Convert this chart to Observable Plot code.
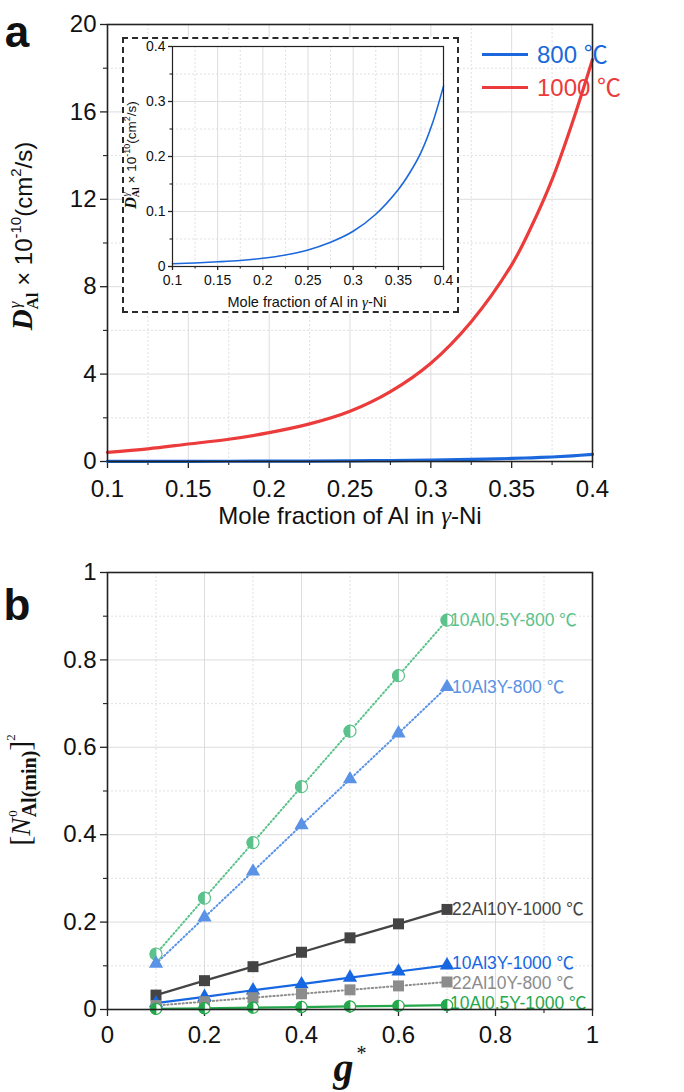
<!DOCTYPE html>
<html>
<head>
<meta charset="utf-8">
<script src="https://cdn.jsdelivr.net/npm/d3@7"></script>
<script src="https://cdn.jsdelivr.net/npm/@observablehq/plot@0.6"></script>
<style>
  body { margin: 0; background: #fff; }
  #wrap { position: relative; width: 684px; height: 1092px; overflow: hidden; background: #fff; }
  #wrap svg { display: block; }
  .abs { position: absolute; }
</style>
</head>
<body>
<div id="wrap"></div>
<script>
// ---------- Panel a data ----------
const xFrac = [0.1, 0.125, 0.15, 0.175, 0.2, 0.225, 0.25, 0.275, 0.3, 0.325, 0.35, 0.3625, 0.375, 0.3875, 0.4];
const d800  = [0.005, 0.0065, 0.0085, 0.011, 0.015, 0.021, 0.030, 0.044, 0.064, 0.095, 0.140, 0.170, 0.207, 0.259, 0.328];
const d1000 = [0.42, 0.58, 0.80, 1.02, 1.32, 1.72, 2.30, 3.20, 4.50, 6.40, 9.0, 10.8, 12.9, 15.5, 18.4];
const legendA = ["800 ℃", "1000 ℃"];

const xTicksA = [0.1, 0.15, 0.2, 0.25, 0.3, 0.35, 0.4];
const xMinorA = [0.125, 0.175, 0.225, 0.275, 0.325, 0.375];
const yTicksA = [0, 4, 8, 12, 16, 20];
const yMinorA = [2, 6, 10, 14, 18];
const yTicksInset = [0, 0.1, 0.2, 0.3, 0.4];
const yMinorInset = [0.05, 0.15, 0.25, 0.35];

// ---------- Panel b data ----------
const gStar = [0.1, 0.2, 0.3, 0.4, 0.5, 0.6, 0.7];
const n10Al05Y800  = [0.127, 0.255, 0.382, 0.510, 0.637, 0.764, 0.891];
const n10Al3Y800   = [0.105, 0.211, 0.316, 0.422, 0.527, 0.632, 0.738];
const n22Al10Y1000 = [0.033, 0.066, 0.098, 0.131, 0.164, 0.196, 0.229];
const n10Al3Y1000  = [0.0145, 0.029, 0.044, 0.058, 0.073, 0.087, 0.101];
const n22Al10Y800  = [0.009, 0.018, 0.027, 0.036, 0.045, 0.054, 0.063];
const n10Al05Y1000 = [0.0014, 0.0028, 0.0042, 0.0056, 0.007, 0.0084, 0.0098];
const seriesNames = ["10Al0.5Y-800 ℃", "10Al3Y-800 ℃", "22Al10Y-1000 ℃", "10Al3Y-1000 ℃", "22Al10Y-800 ℃", "10Al0.5Y-1000 ℃"];
const seriesValues = [n10Al05Y800, n10Al3Y800, n22Al10Y1000, n10Al3Y1000, n22Al10Y800, n10Al05Y1000];
const xTicksB = [0, 0.2, 0.4, 0.6, 0.8, 1];
const xMinorB = [0.1, 0.3, 0.5, 0.7, 0.9];
const yTicksB = [0, 0.2, 0.4, 0.6, 0.8, 1];
const yMinorB = [0.1, 0.3, 0.5, 0.7, 0.9];

// ---------- styles ----------
const SANS = "'Liberation Sans', Arial, Helvetica, 'Noto Sans CJK SC', sans-serif";
const SERIF = "'Liberation Serif', 'Times New Roman', serif";
const BLUE = "#1a68dc", RED = "#ec3b3b";
const seriesStyle = [
  {color: "#5cc28c", dash: "1.2,2.6", symbol: "half", r: 6, dy: 0},
  {color: "#5a92e6", dash: "1.2,2.6", symbol: "triangle", r: 5.3, dy: 0},
  {color: "#444444", dash: null, symbol: "square", r: 6.2, dy: 0},
  {color: "#1767e2", dash: null, symbol: "triangle", r: 5.3, dy: -2},
  {color: "#8c8c8c", dash: "1.2,2.6", symbol: "square", r: 6.2, dy: 1},
  {color: "#25a84c", dash: null, symbol: "half", r: 5.6, dy: -2}
];
const halfLeft = {
  draw(ctx, size) {
    const r = Math.sqrt(size / Math.PI);
    ctx.moveTo(0, -r);
    ctx.arc(0, 0, r, -Math.PI / 2, Math.PI / 2, true);
    ctx.closePath();
  }
};

const fmt = d => String(+d.toFixed(3));
const wrap = document.getElementById("wrap");

function rich(svg, x, y, rotate, parts, anchor = "middle") {
  const t = d3.select(svg).append("text")
    .attr("transform", `translate(${x},${y}) rotate(${rotate})`)
    .attr("text-anchor", anchor).attr("fill", "#111");
  for (const p of parts) {
    const s = t.append("tspan").text(p.t)
      .attr("font-family", p.fam || SANS)
      .attr("font-size", p.size);
    if (p.style) s.attr("font-style", p.style);
    if (p.weight) s.attr("font-weight", p.weight);
    if (p.dx != null) s.attr("dx", p.dx);
    if (p.dy != null) s.attr("dy", p.dy);
  }
}

function gridAndAxes(xT, xM, yT, yM, tickFs, opts = {}) {
  const gridC = "#d9d9d9";
  return [
    Plot.gridX(xM, {stroke: gridC, strokeOpacity: 1, strokeDasharray: "2,2", strokeWidth: 0.8}),
    Plot.gridY(yM, {stroke: gridC, strokeOpacity: 1, strokeDasharray: "2,2", strokeWidth: 0.8}),
    Plot.gridX(xT, {stroke: gridC, strokeOpacity: 1, strokeWidth: 0.9}),
    Plot.gridY(yT, {stroke: gridC, strokeOpacity: 1, strokeWidth: 0.9}),
    Plot.axisX(xT, {tickSize: opts.major || 7, tickPadding: opts.xPad || 11, tickFormat: fmt, label: null,
      fontSize: tickFs, stroke: "#222", strokeWidth: 1.3, fill: "#111"}),
    Plot.axisX(xM, {tickSize: opts.minor || 4, tickFormat: () => "", label: null, stroke: "#222", strokeWidth: 1.1}),
    Plot.axisY(yT, {tickSize: opts.major || 7, tickPadding: opts.yPad || 4, tickFormat: fmt, label: null,
      fontSize: tickFs, stroke: "#222", strokeWidth: 1.3, fill: "#111"}),
    Plot.axisY(yM, {tickSize: opts.minor || 4, tickFormat: () => "", label: null, stroke: "#222", strokeWidth: 1.1})
  ];
}

// ================= Panel a =================
const tableA = xFrac.flatMap((x, i) => [
  {x, y: d800[i], s: legendA[0]},
  {x, y: d1000[i], s: legendA[1]}
]);

const plotA = Plot.plot({
  width: 684, height: 540,
  marginLeft: 107, marginRight: 92, marginTop: 24, marginBottom: 79,
  style: {fontFamily: SANS, fontSize: "24px", background: "white", overflow: "visible", color: "#111"},
  x: {domain: [0.1, 0.4]},
  y: {domain: [0, 20]},
  color: {domain: legendA, range: [BLUE, RED]},
  marks: [
    ...gridAndAxes(xTicksA, xMinorA, yTicksA, yMinorA, 24),
    Plot.line(tableA, {x: "x", y: "y", stroke: "s", strokeWidth: 3.2, curve: "catmull-rom"}),
    Plot.frame({stroke: "#222", strokeWidth: 1.6})
  ]
});
wrap.appendChild(plotA);

// panel label a
d3.select(plotA).append("text").attr("x", 17).attr("y", 47)
  .attr("font-family", SANS).attr("font-weight", "bold").attr("font-size", 44).attr("fill", "#111").text("a");

// y label a
rich(plotA, 32, 236, -90, [
  {t: "D", fam: SERIF, size: 29, style: "italic", weight: "bold"},
  {t: "γ", fam: SERIF, size: 17, style: "italic", dy: -12, dx: 1},
  {t: "Al", fam: SERIF, size: 17, weight: "bold", dy: 18, dx: -8},
  {t: " × 10", fam: SANS, size: 24, dy: -6},
  {t: "-10", fam: SANS, size: 15, dy: -11},
  {t: "(cm", fam: SANS, size: 24, dy: 11},
  {t: "2", fam: SANS, size: 15, dy: -11},
  {t: "/s)", fam: SANS, size: 24, dy: 11}
]);

// x label a
rich(plotA, 350, 524, 0, [
  {t: "Mole fraction of Al in ", fam: SANS, size: 24},
  {t: "γ", fam: SERIF, size: 25, style: "italic"},
  {t: "-Ni", fam: SANS, size: 24}
]);

// legend a (HTML overlay)
const leg = document.createElement("div");
leg.className = "abs";
leg.style.cssText = `left:482px;top:38px;font-family:${SANS};font-size:24px;line-height:33px;`;
legendA.forEach((name, i) => {
  const row = document.createElement("div");
  row.style.cssText = "display:flex;align-items:center;height:33px;";
  const sw = document.createElement("span");
  sw.style.cssText = `display:inline-block;width:46px;height:3px;background:${[BLUE, RED][i]};margin-right:9px;`;
  const tx = document.createElement("span");
  tx.style.color = [BLUE, RED][i];
  tx.textContent = name;
  row.appendChild(sw); row.appendChild(tx);
  leg.appendChild(row);
});
wrap.appendChild(leg);

// inset
const inset = document.createElement("div");
inset.className = "abs";
inset.style.cssText = "left:122px;top:37px;width:337px;height:276px;box-sizing:border-box;border:2px dashed #2a2a2a;background:#fff;";
const tableInset = xFrac.map((x, i) => ({x, y: d800[i]}));
const plotInset = Plot.plot({
  width: 333, height: 272,
  marginLeft: 48, marginRight: 14, marginTop: 7, marginBottom: 45,
  style: {fontFamily: SANS, fontSize: "14px", background: "white", overflow: "visible"},
  x: {domain: [0.1, 0.4]},
  y: {domain: [0, 0.4]},
  marks: [
    ...gridAndAxes(xTicksA, xMinorA, yTicksInset, yMinorInset, 14, {major: 4, minor: 2.5, xPad: 5, yPad: 3}),
    Plot.line(tableInset, {x: "x", y: "y", stroke: BLUE, strokeWidth: 1.6, curve: "catmull-rom"}),
    Plot.frame({stroke: "#222", strokeWidth: 1.2})
  ]
});
inset.appendChild(plotInset);
wrap.appendChild(inset);
rich(plotInset, 12, 116, -90, [
  {t: "D", fam: SERIF, size: 16, style: "italic", weight: "bold"},
  {t: "γ", fam: SERIF, size: 10, style: "italic", dy: -7, dx: 1},
  {t: "Al", fam: SERIF, size: 10, weight: "bold", dy: 10, dx: -5},
  {t: " × 10", fam: SANS, size: 13.5, dy: -3},
  {t: "-10", fam: SANS, size: 9, dy: -6},
  {t: "(cm", fam: SANS, size: 13.5, dy: 6},
  {t: "2", fam: SANS, size: 9, dy: -6},
  {t: "/s)", fam: SANS, size: 13.5, dy: 6}
]);
rich(plotInset, 183, 268, 0, [
  {t: "Mole fraction of Al in ", fam: SANS, size: 14.5},
  {t: "γ", fam: SERIF, size: 15, style: "italic"},
  {t: "-Ni", fam: SANS, size: 14.5}
]);

// ================= Panel b =================
const tableB = seriesNames.flatMap((name, k) =>
  gStar.map((g, i) => ({g, v: seriesValues[k][i], s: name, k})));

const seriesMarks = [];
seriesNames.forEach((name, k) => {
  const st = seriesStyle[k];
  const rows = tableB.filter(d => d.s === name);
  seriesMarks.push(Plot.line(rows, {x: "g", y: "v", stroke: st.color, strokeWidth: st.dash ? 2 : 2.2,
    strokeDasharray: st.dash || undefined, strokeLinecap: st.dash ? "round" : "butt"}));
});
seriesNames.forEach((name, k) => {
  const st = seriesStyle[k];
  const rows = tableB.filter(d => d.s === name);
  if (st.symbol === "half") {
    seriesMarks.push(Plot.dot(rows, {x: "g", y: "v", r: st.r, fill: "white", stroke: st.color, strokeWidth: 1.2}));
    seriesMarks.push(Plot.dot(rows, {x: "g", y: "v", r: st.r, symbol: halfLeft, fill: st.color, stroke: st.color, strokeWidth: 0.8}));
  } else {
    seriesMarks.push(Plot.dot(rows, {x: "g", y: "v", r: st.r, symbol: st.symbol, fill: st.color, stroke: "none"}));
  }
  seriesMarks.push(Plot.text(rows.slice(-1), {x: "g", y: "v", text: "s", textAnchor: "start", dx: st.symbol === "half" ? 3 : 5,
    dy: st.dy, fill: st.color, fontSize: 17.5, fontFamily: SANS}));
});

const plotB = Plot.plot({
  width: 684, height: 552,
  marginLeft: 107, marginRight: 92, marginTop: 32, marginBottom: 83,
  style: {fontFamily: SANS, fontSize: "24px", background: "white", overflow: "visible", color: "#111"},
  x: {domain: [0, 1]},
  y: {domain: [0, 1]},
  marks: [
    ...gridAndAxes(xTicksB, xMinorB, yTicksB, yMinorB, 24, {xPad: 9}),
    ...seriesMarks,
    Plot.frame({stroke: "#222", strokeWidth: 1.6})
  ]
});
wrap.appendChild(plotB);

d3.select(plotB).append("text").attr("x", 17).attr("y", 80)
  .attr("font-family", SANS).attr("font-weight", "bold").attr("font-size", 44).attr("fill", "#111").text("b");

rich(plotB, 30, 250, -90, [
  {t: "[", fam: SERIF, size: 30},
  {t: "N", fam: SERIF, size: 27, style: "italic"},
  {t: "0", fam: SERIF, size: 13, dy: -13, dx: 1},
  {t: "Al(min)", fam: SERIF, size: 20, weight: "bold", dy: 19, dx: -7},
  {t: "]", fam: SERIF, size: 30, dy: -6},
  {t: "2", fam: SERIF, size: 13, dy: -15}
]);

rich(plotB, 350, 541, 0, [
  {t: "g", fam: SERIF, size: 40, style: "italic", weight: "bold"},
  {t: "*", fam: SERIF, size: 20, dy: -21, dx: 3}
]);
</script>
</body>
</html>
